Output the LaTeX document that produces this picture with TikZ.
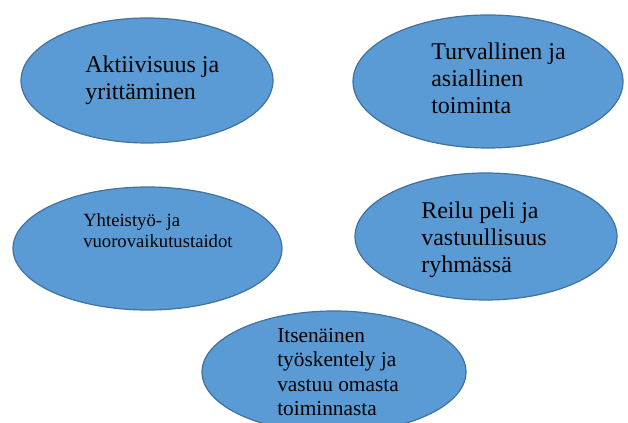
\documentclass[tikz,border=0pt]{standalone}
\usepackage{fontspec}
\setmainfont{Liberation Serif}
\usetikzlibrary{shapes.geometric}

\definecolor{ovalfill}{RGB}{91,155,213}
\definecolor{ovalline}{RGB}{65,113,156}

\begin{document}
\begin{tikzpicture}[x=0.75pt,y=-0.75pt,
  oval/.style={draw=ovalline, fill=ovalfill, line width=0.9pt, ellipse, inner sep=0pt},
  big/.style={anchor=base west, align=left, inner sep=0pt, font=\fontsize{18}{20.25}\selectfont},
  mid/.style={anchor=base west, align=left, inner sep=0pt, font=\fontsize{16}{18.4}\selectfont},
  small/.style={anchor=base west, align=left, inner sep=0pt, font=\fontsize{14}{15.75}\selectfont}]
\useasboundingbox (0,0) rectangle (628,423);
\clip (0,0) rectangle (628,423);

\node[oval, minimum width=189pt, minimum height=93.75pt] (akt) at (147,80.5) {};
\node[big] (aktt) at (85,100) {Aktiivisuus ja\\yrittäminen};

\node[oval, minimum width=202.5pt, minimum height=99.75pt] (tur) at (488,81.5) {};
\node[big] (turt) at (431,114) {Turvallinen ja\\asiallinen\\toiminta};

\node[oval, minimum width=201.75pt, minimum height=92.25pt] (yht) at (147.5,248.5) {};
\node[small] (yhtt) at (83,248) {Yhteistyö- ja\\vuorovaikutustaidot};

\node[oval, minimum width=196.5pt, minimum height=95.25pt] (rei) at (486,236.5) {};
\node[big] (reit) at (421,273) {Reilu peli ja\\vastuullisuus\\ryhmässä};

\node[oval, minimum width=198pt, minimum height=91.5pt] (its) at (334,372) {};
\node[mid] (itst) at (277,416) {Itsenäinen\\työskentely ja\\vastuu omasta\\toiminnasta};
\end{tikzpicture}
\end{document}
